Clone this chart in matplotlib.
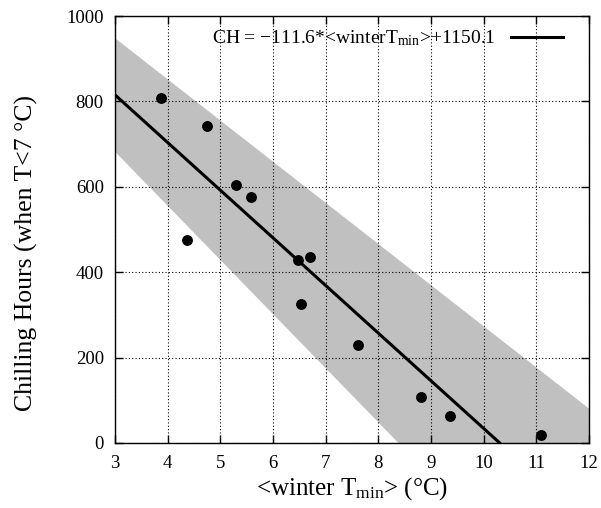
import matplotlib
matplotlib.use("Agg")
import matplotlib.pyplot as plt
import matplotlib.patches as mpatches
import numpy as np

plt.rcParams['font.family'] = ['Liberation Serif', 'DejaVu Serif']
plt.rcParams['mathtext.fontset'] = 'custom'
plt.rcParams['mathtext.rm'] = 'Liberation Serif'
plt.rcParams['mathtext.it'] = 'Liberation Serif:italic'

# data
tmin = [3.87, 4.37, 4.75, 5.30, 5.58, 6.47, 6.54, 6.71, 7.61, 8.81, 9.37, 11.09]
chill = [809, 475, 742, 604, 576, 428, 325, 435, 229, 108, 64, 19]
slope = -111.6
intercept = 1150.1
slope_err = 15.2
intercept_err = 87.3
xticks = [3, 4, 5, 6, 7, 8, 9, 10, 11, 12]
yticks = [0, 200, 400, 600, 800, 1000]

fig = plt.figure(figsize=(6.01, 5.08), dpi=100)
ax = fig.add_axes([0.1913, 0.128, 0.7887, 0.8405])

xs = np.linspace(3, 12, 200)
upper = (intercept + intercept_err) + (slope + slope_err) * xs
lower = (intercept - intercept_err) + (slope - slope_err) * xs
ax.fill_between(xs, lower, upper, color='#c0c0c0', linewidth=0, zorder=1)
ax.plot(xs, intercept + slope * xs, color='black', linewidth=2.2, zorder=3,
        label='CH = \u2212111.6*<winterT$_{\\mathrm{min}}$>+1150.1')
ax.plot(tmin, chill, 'o', color='black', markersize=6.8, zorder=4)

# opaque key area
ax.add_patch(mpatches.Rectangle((3.6, 916), 8.4, 84, facecolor='white',
                                edgecolor='none', zorder=2.5))

ax.set_xlim(3, 12)
ax.set_ylim(0, 1000)
ax.set_xticks(xticks)
ax.set_yticks(yticks)
ax.grid(True, linestyle=(0, (1, 2)), color='black', linewidth=0.8, zorder=2)
ax.set_axisbelow(False)
ax.tick_params(direction='in', length=6, top=True, right=True, labelsize=13.5, width=1)
ax.tick_params(axis='x', pad=9)
ax.tick_params(axis='y', pad=8)
for s in ax.spines.values():
    s.set_linewidth(1.0)
    s.set_zorder(5)

ax.set_xlabel('<winter T$_{\\mathrm{min}}$> (\u00b0C)', fontsize=18, labelpad=2)
ax.set_ylabel('Chilling Hours (when T<7 \u00b0C)', fontsize=18.5)
ax.yaxis.set_label_coords(-0.162, 0.445)

leg = ax.legend(loc='upper right', bbox_to_anchor=(0.9726, 1.0), frameon=False,
                markerfirst=False, fontsize=14, handlelength=2.7,
                borderaxespad=0.25, handletextpad=0.8)
leg.set_zorder(6)

fig.savefig('out.png', dpi=100)
